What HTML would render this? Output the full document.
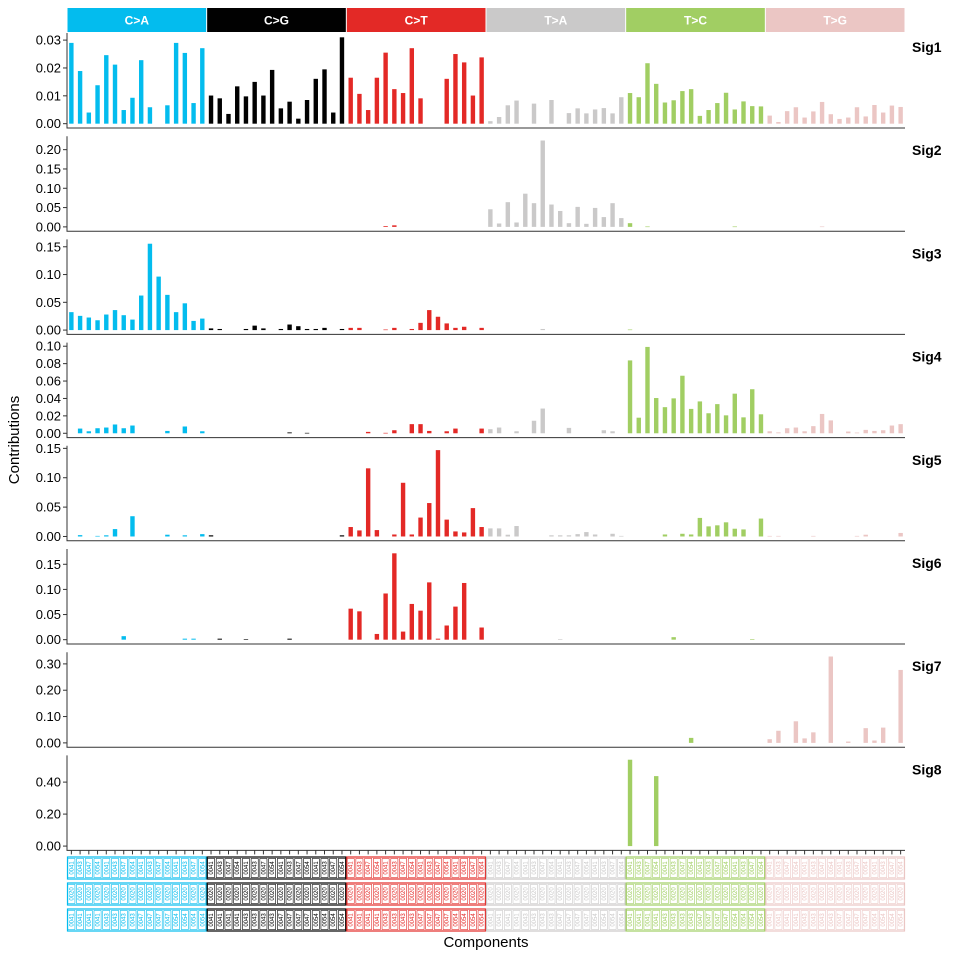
<!DOCTYPE html>
<html><head><meta charset="utf-8"><title>Signature contributions</title>
<style>
html,body{margin:0;padding:0;background:#fff;}
svg text{font-family:"Liberation Sans",sans-serif;}
</style></head>
<body>
<svg id="chart" width="960" height="960" viewBox="0 0 960 960" xmlns="http://www.w3.org/2000/svg">
<rect width="960" height="960" fill="#fff"/>
<text x="0" y="0" transform="translate(19,440) rotate(-90)" text-anchor="middle" font-size="15" fill="#000">Contributions</text>
<text x="486" y="947" text-anchor="middle" font-size="15" fill="#000">Components</text>
</svg>
<script>
const groups = ["C>A","C>G","C>T","T>A","T>C","T>G"];
const groupColors = ["#03BCEE","#010101","#E32926","#CAC9C9","#A1CE63","#EBC6C4"];
const sigNames = ["Sig1","Sig2","Sig3","Sig4","Sig5","Sig6","Sig7","Sig8"];
const row1Labels = ["0041","0043","0047","0054"];
const row2Labels = ["0020"];
const row3Labels = ["0041","0043","0047","0054"];

const sig1 = [
0.029,0.0189,0.004,0.0138,0.0246,0.0212,0.0049,0.0093,0.0228,0.0059,0,0.0066,0.029,0.0254,0.0074,0.0271,
0.0101,0.0091,0.0035,0.0134,0.0098,0.015,0.0101,0.0193,0.0055,0.0079,0.0018,0.0085,0.0161,0.0195,0.004,0.031,
0.0165,0.0107,0.0049,0.0165,0.0255,0.0124,0.011,0.0271,0.0091,0,0,0.0161,0.025,0.022,0.0101,0.0238,
0.0009,0.0024,0.0066,0.0083,0,0.0072,0,0.0085,0,0.0038,0.0055,0.0037,0.0051,0.0056,0.0037,0.0095,
0.011,0.0095,0.0217,0.0143,0.0076,0.0084,0.0117,0.0124,0.0028,0.0049,0.0074,0.0111,0.0051,0.008,0.0063,0.0062,
0.0029,0.0006,0.0045,0.0059,0.0022,0.0044,0.0078,0.0034,0.0017,0.0022,0.0059,0.0026,0.0067,0.004,0.0065,0.006];
const sig2 = [
0,0,0,0,0,0,0,0,0,0,0,0,0,0,0,0,
0,0,0,0,0,0,0,0,0,0,0,0,0,0,0,0,
0,0,0,0,0.002,0.004,0,0,0,0,0,0,0,0,0,0,
0.0456,0.0088,0.064,0.0114,0.086,0.0614,0.2237,0.0579,0.0412,0.0096,0.0518,0.0079,0.0491,0.0254,0.0614,0.0228,
0.0096,0,0.001,0,0,0,0,0,0,0,0,0,0.001,0,0,0,
0,0,0,0,0,0,0.001,0,0,0,0,0,0,0,0,0];
const sig3 = [
0.0323,0.0256,0.0226,0.0177,0.028,0.036,0.0268,0.0189,0.0622,0.1555,0.0963,0.0634,0.0323,0.0482,0.0165,0.0207,
0.003,0.002,0,0,0.002,0.008,0.003,0,0.002,0.010,0.007,0.002,0.002,0.004,0,0.002,
0.004,0.004,0,0,0.001,0.004,0,0.002,0.013,0.036,0.024,0.012,0.004,0.006,0,0.004,
0,0,0,0,0,0,0.002,0,0,0,0,0,0,0,0,0,
0.001,0,0,0,0,0,0,0,0,0,0,0,0,0,0,0,
0,0,0,0,0,0,0,0,0,0,0,0,0,0,0,0];
const sig4 = [
0,0.0054,0.0023,0.0058,0.0066,0.0101,0.0058,0.0089,0,0,0,0.0027,0,0.0078,0,0.0023,
0,0,0,0,0,0,0,0,0,0.001,0,0.0005,0,0,0,0,
0,0,0.0016,0,0.0005,0.0035,0,0.0105,0.0105,0.0027,0,0.0023,0.0054,0,0,0.0054,
0.0047,0.0066,0,0.0023,0,0.0144,0.0284,0,0,0.0062,0,0,0,0.0035,0.0023,0,
0.0837,0.0179,0.0992,0.0405,0.03,0.0401,0.0661,0.028,0.0366,0.023,0.0335,0.0206,0.0455,0.0183,0.0506,0.0218,
0.0023,0.001,0.0058,0.0066,0.0023,0.0082,0.0222,0.0148,0,0.002,0.0008,0.0039,0.0027,0.0035,0.0089,0.0105];
const sig5 = [
0,0.0023,0,0.001,0.002,0.0126,0,0.0345,0,0,0,0.003,0,0.002,0,0.004,
0.002,0,0,0,0,0,0,0,0,0,0,0,0,0,0,0.002,
0.0161,0.0103,0.116,0.0109,0,0.0034,0.0914,0.0034,0.0322,0.0569,0.147,0.0287,0.0086,0.0069,0.0483,0.0161,
0.0138,0.0138,0.003,0.0178,0,0,0,0.002,0.002,0.002,0.004,0.0075,0.0034,0,0.0046,0.001,
0,0,0,0,0.0034,0,0.0046,0.0034,0.0316,0.0172,0.019,0.0241,0.0132,0.012,0,0.0305,
0.001,0.001,0,0,0,0.001,0,0,0,0,0.001,0.003,0,0,0,0.006];
const sig6 = [
0,0,0,0,0,0,0.007,0,0,0,0,0,0,0.002,0.002,0,
0,0.002,0,0,0.001,0,0,0,0,0.002,0,0,0,0,0,0,
0.0617,0.0564,0,0.0114,0.0919,0.1718,0.0161,0.0711,0.0577,0.114,0.002,0.0282,0.0658,0.1128,0,0.0242,
0,0,0,0,0,0,0,0,0.001,0,0,0,0,0,0,0,
0,0,0,0,0,0.005,0,0,0,0,0,0,0,0,0.001,0,
0,0,0,0,0,0,0,0,0,0,0,0,0,0,0,0];
const sig7 = [
0,0,0,0,0,0,0,0,0,0,0,0,0,0,0,0,
0,0,0,0,0,0,0,0,0,0,0,0,0,0,0,0,
0,0,0,0,0,0,0,0,0,0,0,0,0,0,0,0,
0,0,0,0,0,0,0,0,0,0,0,0,0,0,0,0,
0,0,0,0,0,0,0,0.019,0,0,0,0,0,0,0,0,
0.014,0.046,0,0.082,0.017,0.04,0,0.328,0,0.005,0,0.056,0.009,0.058,0,0.277];
const sig8 = [
0,0,0,0,0,0,0,0,0,0,0,0,0,0,0,0,
0,0,0,0,0,0,0,0,0,0,0,0,0,0,0,0,
0,0,0,0,0,0,0,0,0,0,0,0,0,0,0,0,
0,0,0,0,0,0,0,0,0,0,0,0,0,0,0,0,
0.54,0,0,0.4375,0,0,0,0,0,0,0,0,0,0,0,0,
0,0,0,0,0,0,0,0,0,0,0,0,0,0,0,0];
const seriesList = [sig1,sig2,sig3,sig4,sig5,sig6,sig7,sig8];

const ticks1 = ["0.00","0.01","0.02","0.03"];
const ticks2 = ["0.00","0.05","0.10","0.15","0.20"];
const ticks3 = ["0.00","0.05","0.10","0.15"];
const ticks4 = ["0.00","0.02","0.04","0.06","0.08","0.10"];
const ticks5 = ["0.00","0.05","0.10","0.15"];
const ticks6 = ["0.00","0.05","0.10","0.15"];
const ticks7 = ["0.00","0.10","0.20","0.30"];
const ticks8 = ["0.00","0.20","0.40"];
const tickList = [ticks1,ticks2,ticks3,ticks4,ticks5,ticks6,ticks7,ticks8];

const NS = "http://www.w3.org/2000/svg";
const svg = document.getElementById("chart");
const X0 = 67, X1 = 905, N = 96, STEP = (X1 - X0) / N;
const PANEL_TOP = 33, PANEL_H = 95, PANEL_GAP = 103.2;
function mk(tag, attrs, parent) {
  const e = document.createElementNS(NS, tag);
  for (const k in attrs) e.setAttribute(k, attrs[k]);
  (parent || svg).appendChild(e);
  return e;
}
function xCenter(i) { return X0 + STEP * (i + 0.5); }
function groupOf(i) { return Math.floor(i / 16); }

groups.forEach((g, gi) => {
  const gx = X0 + gi * 16 * STEP;
  const r = mk("rect", {x: gx + 0.5, y: 8, width: 16 * STEP - 1, height: 24, fill: groupColors[gi]});
  
  
  const t = mk("text", {x: gx + 8 * STEP, y: 24.5, "text-anchor": "middle", "font-size": 12, "font-weight": "bold", fill: "#fff"});
  t.textContent = g;
  
  
});

seriesList.forEach((vals, p) => {
  const top = PANEL_TOP + p * PANEL_GAP;
  const bottom = top + PANEL_H;
  const M = Math.max.apply(null, vals) || 1;
  const lo = -0.05 * M, hi = 1.05 * M;
  const y = v => bottom - (v - lo) / (hi - lo) * PANEL_H;
  const g = mk("g", {});
  
  
  vals.forEach((v, i) => {
    if (v <= 0) return;
    const y0 = y(0), y1 = y(v);
    const b = mk("rect", {x: xCenter(i) - 2.2, y: y1, width: 4.4, height: Math.max(0.6, y0 - y1), fill: groupColors[groupOf(i)]}, g);
    
    
  });
  const ax = mk("path", {d: `M${X0} ${top}V${bottom}H${X1}`, stroke: "#333", "stroke-width": 1, fill: "none"}, g);
  
  
  tickList[p].forEach(lbl => {
    const v = parseFloat(lbl);
    if (v > hi) return;
    const ty = y(v);
    const tk = mk("line", {x1: X0 - 4, x2: X0, y1: ty, y2: ty, stroke: "#333", "stroke-width": 1}, g);
    
    
    const tt = mk("text", {x: X0 - 6, y: ty + 4.5, "text-anchor": "end", "font-size": 13, fill: "#000"}, g);
    tt.textContent = lbl;
    
    
  });
  const sl = mk("text", {x: 912, y: top + 19, "font-size": 14, "font-weight": "bold", fill: "#000"}, g);
  sl.textContent = sigNames[p];
  
  
});

const lastBottom = PANEL_TOP + 7 * PANEL_GAP + PANEL_H;
for (let i = 0; i < N; i++) {
  const xt = mk("line", {x1: xCenter(i), x2: xCenter(i), y1: lastBottom, y2: lastBottom + 4, stroke: "#333", "stroke-width": 1});
  
  
}
const rowTops = [857, 883, 909];
const rowH = 22;
const rowLabelSets = [row1Labels, row2Labels, row3Labels];
rowTops.forEach((ry, r) => {
  for (let i = 0; i < N; i++) {
    const col = groupColors[groupOf(i)];
    const k = i % 16;
    let lbl;
    if (r === 0) lbl = rowLabelSets[0][k % 4];
    else if (r === 1) lbl = rowLabelSets[1][0];
    else lbl = rowLabelSets[2][Math.floor(k / 4)];
    const cx = X0 + STEP * i;
    const c = mk("rect", {x: cx + 0.8, y: ry + 1.5, width: STEP - 1.6, height: rowH - 3, fill: "#fff", stroke: col, "stroke-width": 0.6});
    
    
    const t = mk("text", {x: 0, y: 0, transform: `translate(${cx + STEP / 2 + 2},${ry + rowH / 2}) rotate(-90)`, "text-anchor": "middle", "font-size": 6, fill: col});
    t.textContent = lbl;
    
    
  }
  groups.forEach((g, gi) => {
    const gr = mk("rect", {x: X0 + gi * 16 * STEP + 0.5, y: ry, width: 16 * STEP - 1, height: rowH, fill: "none", stroke: groupColors[gi], "stroke-width": 1.2});
    
    
  });
});
</script>
</body></html>
